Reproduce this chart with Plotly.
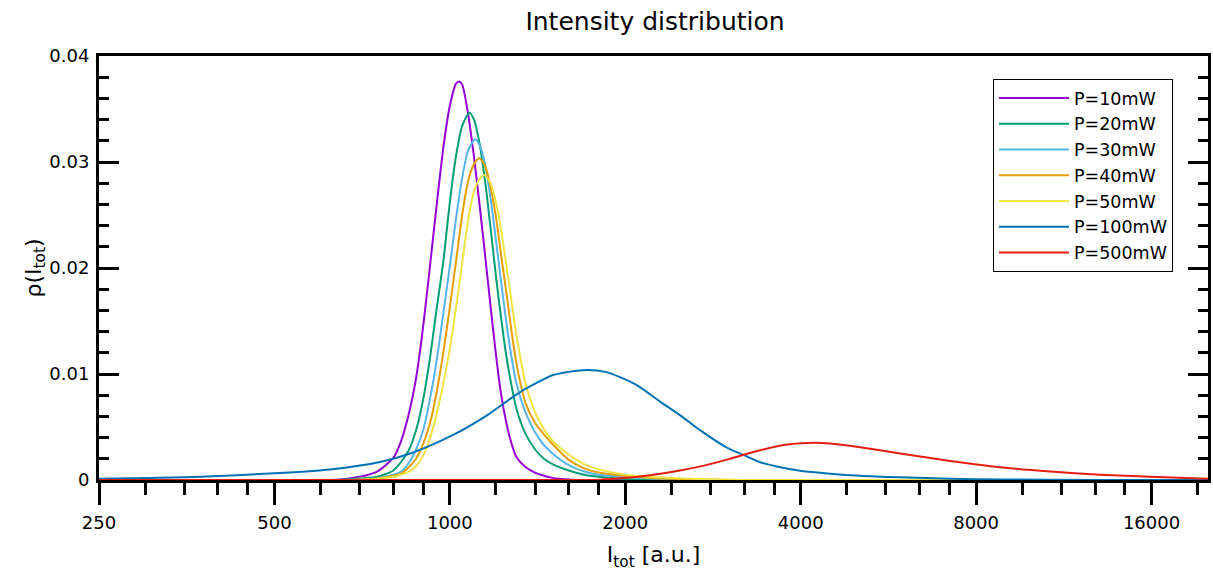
import math
import plotly.graph_objects as go

# ---- data (I_tot in a.u., rho) ----
I_10 = [250, 600, 650, 700, 750, 800, 825, 850, 875, 900, 925, 950, 975, 1000, 1025, 1037, 1050, 1075, 1100, 1125,
        1150, 1175, 1200, 1225, 1250, 1275, 1300, 1350, 1400, 1450, 1500, 1600, 1700, 1800, 2000, 20000]
rho_10 = [0, 0, 0.00005, 0.0003, 0.0008, 0.0021, 0.0037, 0.0062, 0.0096, 0.0145,
          0.0203, 0.0261, 0.0314, 0.0353, 0.0374, 0.0376, 0.0373, 0.0345, 0.0305, 0.0259,
          0.0211, 0.0163, 0.0118, 0.0080, 0.0054, 0.0035, 0.0022, 0.0012, 0.0007, 0.0004,
          0.0002, 0.00005, 0, 0, 0, 0]

I_20 = [250, 650, 700, 750, 800, 825, 850, 875, 900, 925, 950, 975, 1000, 1025, 1050, 1080, 1100, 1125, 1150, 1175,
        1200, 1225, 1250, 1275, 1300, 1350, 1400, 1450, 1500, 1600, 1700, 1800, 2000, 2200, 2500, 20000]
rho_20 = [0, 0.00003, 0.00015, 0.0003, 0.0009, 0.0017, 0.0028, 0.0047, 0.0076, 0.0116,
          0.0163, 0.0207, 0.0262, 0.0306, 0.0334, 0.03465, 0.0340, 0.0317, 0.0281, 0.0237,
          0.0192, 0.0152, 0.0117, 0.0090, 0.0068, 0.0043, 0.0029, 0.0020, 0.0015, 0.0009,
          0.0005, 0.0003, 0.0001, 0.00003, 0, 0]

I_30 = [250, 700, 750, 800, 825, 850, 875, 900, 925, 950, 975, 1000, 1025, 1050, 1075, 1105, 1125, 1150, 1175, 1200,
        1225, 1250, 1275, 1300, 1350, 1400, 1450, 1500, 1600, 1700, 1800, 2000, 2200, 2500, 3000, 20000]
rho_30 = [0, 0.00005, 0.0002, 0.0005, 0.0008, 0.0016, 0.0029, 0.0047, 0.0077, 0.0114,
          0.0158, 0.0202, 0.0247, 0.0285, 0.0311, 0.03214, 0.0316, 0.0297, 0.0265, 0.0226,
          0.0186, 0.0149, 0.0117, 0.0092, 0.0063, 0.0045, 0.0033, 0.0025, 0.0014, 0.0008,
          0.0005, 0.0003, 0.00015, 0.00005, 0, 0]

I_40 = [250, 700, 750, 800, 825, 850, 875, 900, 925, 950, 975, 1000, 1025, 1050, 1075, 1100, 1124, 1150, 1175, 1200,
        1225, 1250, 1275, 1300, 1350, 1400, 1450, 1500, 1600, 1700, 1800, 2000, 2200, 2500, 3200, 20000]
rho_40 = [0, 0.00003, 0.00015, 0.0004, 0.0006, 0.0012, 0.0020, 0.0034, 0.0054, 0.0084,
          0.0121, 0.0163, 0.0207, 0.0250, 0.0282, 0.0298, 0.03035, 0.0296, 0.0276, 0.0248,
          0.0212, 0.0177, 0.0142, 0.0111, 0.0072, 0.0054, 0.0043, 0.0034, 0.0019, 0.0011,
          0.0007, 0.0004, 0.0002, 0.0001, 0, 0]

I_50 = [250, 700, 750, 800, 825, 850, 875, 900, 925, 950, 975, 1000, 1025, 1050, 1075, 1100, 1125, 1146, 1175, 1200,
        1225, 1250, 1275, 1300, 1350, 1400, 1450, 1500, 1600, 1700, 1800, 2000, 2200, 2500, 3200, 20000]
rho_50 = [0, 0.00002, 0.0001, 0.0003, 0.0005, 0.0008, 0.0013, 0.0023, 0.0040, 0.0063,
          0.0092, 0.0124, 0.0163, 0.0205, 0.0245, 0.0272, 0.0284, 0.02877, 0.0280, 0.0262,
          0.0235, 0.0203, 0.0170, 0.0138, 0.0090, 0.0064, 0.0048, 0.0037, 0.0024, 0.0015,
          0.0010, 0.0005, 0.0003, 0.00015, 0, 0]

I_100 = [250, 306, 373, 500, 623, 759, 865, 1013, 1158, 1320, 1504, 1600, 1720, 1850, 1959, 2100, 2295, 2500,
         2687, 3000, 3211, 3400, 3688, 3990, 4493, 5057, 5922, 7217, 8793, 13053, 20000]
rho_100 = [0.00012, 0.0002, 0.0003, 0.00063, 0.0010, 0.0017, 0.0026, 0.00425, 0.0061, 0.0083, 0.0099, 0.0102,
           0.01038, 0.0102, 0.0097, 0.0089, 0.0074, 0.0060, 0.0047, 0.0030, 0.0023, 0.0017, 0.0012, 0.00088,
           0.0006, 0.0004, 0.00025, 0.00012, 0.00005, 0.00001, 0]

I_500 = [250, 1673, 1810, 1983, 2206, 2483, 2741, 3025, 3407, 3760, 4118, 4493, 5057, 5922, 7217, 8793,
         10713, 13053, 15906, 20000]
rho_500 = [0, 0, 0.00003, 0.00018, 0.00045, 0.0009, 0.00138, 0.0020, 0.0028, 0.00333, 0.0035, 0.00345, 0.0031,
           0.0025, 0.0018, 0.0012, 0.0008, 0.0005, 0.0003, 0.00012]

series_names = ["P=10mW", "P=20mW", "P=30mW", "P=40mW", "P=50mW", "P=100mW", "P=500mW"]
series_x = [I_10, I_20, I_30, I_40, I_50, I_100, I_500]
series_y = [rho_10, rho_20, rho_30, rho_40, rho_50, rho_100, rho_500]
series_colors = ["#9400d3", "#009e73", "#56b4e9", "#e69f00", "#f0e442", "#0072b2", "#e51e10"]

x_ticks = [250, 500, 1000, 2000, 4000, 8000, 16000]
x_tick_labels = ["250", "500", "1000", "2000", "4000", "8000", "16000"]
x_minor_factors = [1.2, 1.4, 1.6, 1.8]
x_range = [250, 20000]
y_range = [0, 0.04]

x_minor = [t * f for t in x_ticks for f in x_minor_factors if t * f < x_range[1]]

FONT = "DejaVu Sans"

fig = go.Figure()
for name, xs, ys, col in zip(series_names, series_x, series_y, series_colors):
    fig.add_trace(go.Scatter(
        x=xs, y=ys, name=name, mode="lines",
        line=dict(color=col, width=2, shape="spline", smoothing=0.7),
    ))

fig.update_layout(
    width=1213, height=572,
    margin=dict(l=99, r=5, t=56, b=92, autoexpand=False),
    paper_bgcolor="white", plot_bgcolor="white",
    font=dict(family=FONT, size=18, color="black"),
    title=dict(text="Intensity distribution", x=0.54, xanchor="center",
               y=1 - 21 / 572, yanchor="middle", yref="container",
               font=dict(size=25, family=FONT)),
    legend=dict(x=(993 - 99) / 1109, y=(480 - 79) / 424, xanchor="left", yanchor="top",
                bgcolor="white", bordercolor="black", borderwidth=1,
                font=dict(size=17.5, family=FONT), itemwidth=70),
    showlegend=True,
)

fig.update_xaxes(
    type="log", range=[math.log10(x_range[0]), math.log10(x_range[1])],
    automargin=False,
    tickmode="array", tickvals=x_ticks, ticktext=x_tick_labels,
    ticks="outside", ticklen=22, tickwidth=3, tickcolor="black",
    showline=True, linewidth=3, linecolor="black", mirror=True,
    showgrid=False, zeroline=False,
    tickfont=dict(size=18, family=FONT), ticklabelstandoff=2,
    minor=dict(tickmode="array", tickvals=x_minor, ticks="outside", ticklen=12,
               tickwidth=3, tickcolor="black", showgrid=False),
    title=dict(text="I<sub>tot</sub> [a.u.]", font=dict(size=22, family=FONT), standoff=16),
)
fig.update_yaxes(
    range=y_range, automargin=False,
    tickmode="linear", tick0=0, dtick=0.01,
    ticks="inside", ticklen=20, tickwidth=3, tickcolor="black",
    showline=True, linewidth=3, linecolor="black", mirror="ticks",
    showgrid=False, zeroline=False,
    tickfont=dict(size=18, family=FONT), ticklabelstandoff=3,
    minor=dict(tick0=0, dtick=0.002, ticks="inside", ticklen=10, tickwidth=3,
               tickcolor="black", showgrid=False),
    title=dict(text="ρ(I<sub>tot</sub>)", font=dict(size=22, family=FONT), standoff=0),
)

fig.write_html(
    "out.html",
    config={"displayModeBar": False},
    post_script="document.documentElement.style.margin='0';document.body.style.margin='0';"
                "document.body.style.overflow='hidden';",
)
